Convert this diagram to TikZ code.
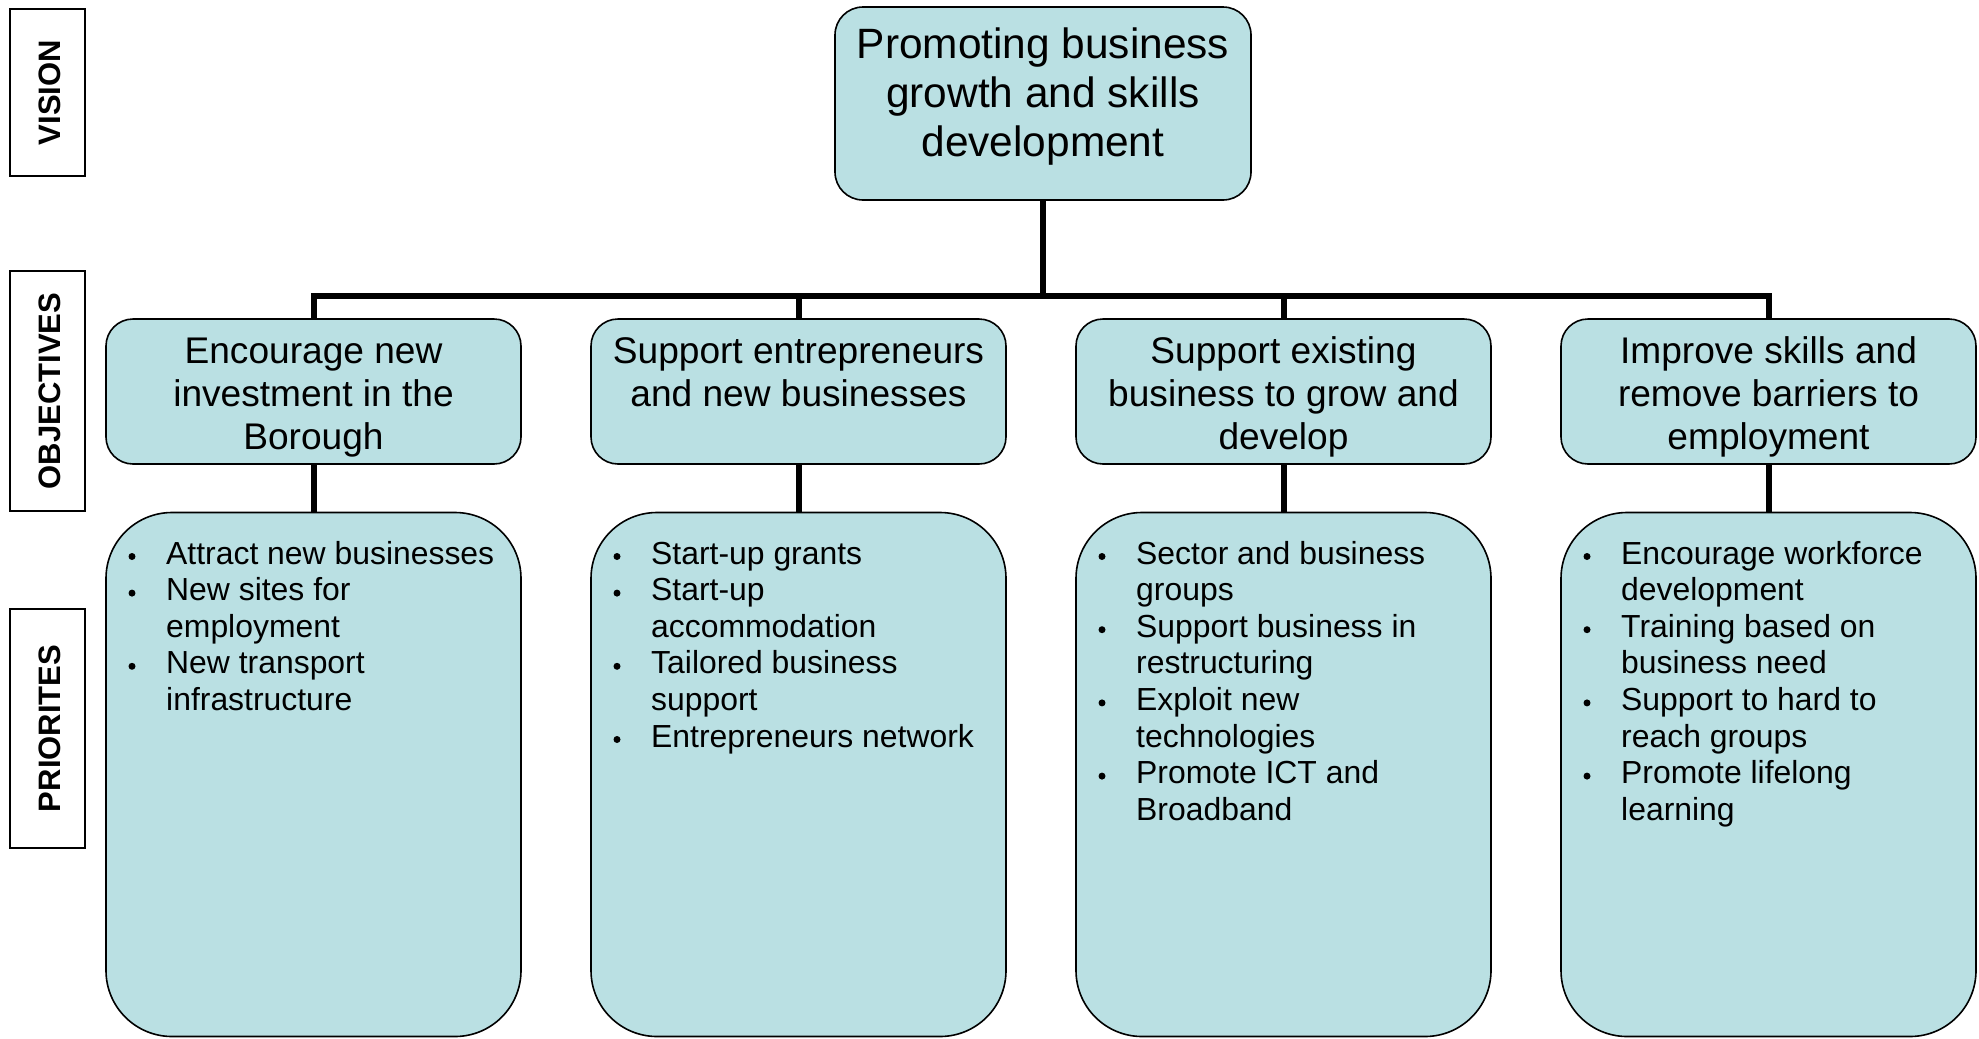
\documentclass[tikz,border=0pt]{standalone}
\usepackage{fontspec}
\setmainfont{Liberation Sans}
\definecolor{boxfill}{RGB}{186,224,227}
\begin{document}
\begin{tikzpicture}[x=1pt,y=-1pt,
  panel/.style={draw=black, line width=1.6pt, fill=boxfill, inner sep=0pt},
  visionbox/.style={panel, rounded corners=28pt, minimum width=416pt, minimum height=193pt},
  objbox/.style={panel, rounded corners=27pt, minimum width=415pt, minimum height=145pt},
  priobox/.style={panel, rounded corners=66pt, minimum width=415pt, minimum height=524pt},
  tierbox/.style={draw=black, line width=1.6pt, fill=white, minimum width=75pt, inner sep=0pt},
  tiertext/.style={font=\fontsize{31}{36}\selectfont\bfseries, rotate=90, inner sep=0pt},
  conn/.style={line width=6pt, draw=black},
  visiontext/.style={font=\fontsize{42.4}{49}\selectfont, anchor=base, inner sep=0pt},
  objtext/.style={font=\fontsize{37.1}{43}\selectfont, anchor=base, inner sep=0pt},
  itemtext/.style={font=\fontsize{31.9}{36.6}\selectfont, anchor=base west, inner sep=0pt},
  bulletdot/.style={circle, fill=black, inner sep=0pt, minimum size=7pt}
]
\useasboundingbox (0,0) rectangle (1979,1039);

% tier labels down the left side
\node[tierbox, minimum height=167pt] (tierV) at (47.5,92.5) {};
\node[tiertext] (tierVt) at (50,92.5) {VISION};
\node[tierbox, minimum height=240pt] (tierO) at (47.5,391) {};
\node[tiertext] (tierOt) at (50,391) {OBJECTIVES};
\node[tierbox, minimum height=239pt] (tierP) at (47.5,728.5) {};
\node[tiertext] (tierPt) at (50,728.5) {PRIORITES};

% vision
\node[visionbox] (vis) at (1043,103.5) {};
\foreach \t [count=\i] in {Promoting business, growth and skills, development}
  \node[visiontext] (vist\i) at (1043,{58+49*(\i-1)}) {\t};

% objectives
\node[objbox] (o1) at (313.5,391.5) {};
\node[objbox] (o2) at (798.5,391.5) {};
\node[objbox] (o3) at (1283.5,391.5) {};
\node[objbox] (o4) at (1768.5,391.5) {};
\foreach \t [count=\i] in {Encourage new, investment in the, Borough}
  \node[objtext] (o1t\i) at (313.5,{363+43*(\i-1)}) {\t};
\foreach \t [count=\i] in {Support entrepreneurs, and new businesses}
  \node[objtext] (o2t\i) at (798.5,{363+43*(\i-1)}) {\t};
\foreach \t [count=\i] in {Support existing, business to grow and, develop}
  \node[objtext] (o3t\i) at (1283.5,{363+43*(\i-1)}) {\t};
\foreach \t [count=\i] in {Improve skills and, remove barriers to, employment}
  \node[objtext] (o4t\i) at (1768.5,{363+43*(\i-1)}) {\t};

% priorities
\node[priobox] (p1) at (313.5,774.5) {};
\node[priobox] (p2) at (798.5,774.5) {};
\node[priobox] (p3) at (1283.5,774.5) {};
\node[priobox] (p4) at (1768.5,774.5) {};

\foreach \t/\b [count=\i] in {Attract new businesses/1, New sites for/1, employment/0,
    New transport/1, infrastructure/0} {
  \node[itemtext] (p1t\i) at (166,{564+36.6*(\i-1)}) {\t};
  \ifnum\b=1 \node[bulletdot] (p1b\i) at (132,{556.5+36.6*(\i-1)}) {};\fi
}
\foreach \t/\b [count=\i] in {Start-up grants/1, Start-up/1, accommodation/0,
    Tailored business/1, support/0, Entrepreneurs network/1} {
  \node[itemtext] (p2t\i) at (651,{564+36.6*(\i-1)}) {\t};
  \ifnum\b=1 \node[bulletdot] (p2b\i) at (617,{556.5+36.6*(\i-1)}) {};\fi
}
\foreach \t/\b [count=\i] in {Sector and business/1, groups/0, Support business in/1,
    restructuring/0, Exploit new/1, technologies/0, Promote ICT and/1, Broadband/0} {
  \node[itemtext] (p3t\i) at (1136,{564+36.6*(\i-1)}) {\t};
  \ifnum\b=1 \node[bulletdot] (p3b\i) at (1102,{556.5+36.6*(\i-1)}) {};\fi
}
\foreach \t/\b [count=\i] in {Encourage workforce/1, development/0, Training based on/1,
    business need/0, Support to hard to/1, reach groups/0, Promote lifelong/1, learning/0} {
  \node[itemtext] (p4t\i) at (1621,{564+36.6*(\i-1)}) {\t};
  \ifnum\b=1 \node[bulletdot] (p4b\i) at (1587,{556.5+36.6*(\i-1)}) {};\fi
}

% connectors
\coordinate (barM) at (1043,296);
\draw[conn] (vis.south) -- (barM);
\draw[conn] (o1.north) -- (o1.north |- barM) -- (o4.north |- barM) -- (o4.north);
\draw[conn] (o2.north) -- (o2.north |- barM);
\draw[conn] (o3.north) -- (o3.north |- barM);
\draw[conn] (o1.south) -- (p1.north);
\draw[conn] (o2.south) -- (p2.north);
\draw[conn] (o3.south) -- (p3.north);
\draw[conn] (o4.south) -- (p4.north);
\end{tikzpicture}
\end{document}
